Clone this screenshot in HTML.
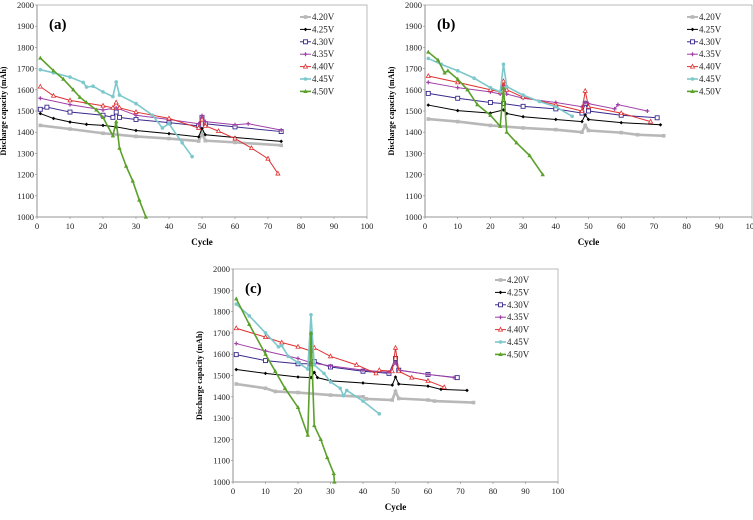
<!DOCTYPE html>
<html><head><meta charset="utf-8"><style>
body{margin:0;background:#fff;}
svg, svg text{font-family:"Liberation Serif","DejaVu Serif",serif !important;}
</style></head><body>
<svg id="fig" width="753" height="515" viewBox="0 0 753 515" font-family="Liberation Serif, serif" xmlns="http://www.w3.org/2000/svg"></svg>
<script>
const xTicks=[0,10,20,30,40,50,60,70,80,90,100];
const yTicks=[1000,1100,1200,1300,1400,1500,1600,1700,1800,1900,2000];
const seriesNames=["4.20V","4.25V","4.30V","4.35V","4.40V","4.45V","4.50V"];
// chart (a)
const aCyc=[
[1,10,20,30,40,49,50,51,60,74],
[1,5,10,15,20,24,30,40,49,50,51,60,74],
[1,3,10,20,23,24,25,30,40,49,50,51,60,74],
[1,10,20,24,30,40,49,50,51,60,64,74],
[1,5,10,20,23,24,25,30,40,49,50,51,55,60,65,70,73],
[1,5,10,14,15,17,20,23,24,25,30,35,38,40,44,47],
[1,5,8,11,13,15,18,20,23,24,25,27,29,31,33]];
const aCap=[
[1432,1415,1395,1380,1370,1358,1395,1360,1352,1338],
[1488,1465,1448,1437,1432,1425,1408,1393,1378,1418,1388,1375,1357],
[1508,1518,1495,1480,1470,1495,1470,1460,1445,1430,1470,1440,1425,1403],
[1560,1530,1505,1515,1480,1460,1440,1478,1450,1435,1440,1410],
[1615,1572,1550,1525,1515,1540,1515,1495,1465,1420,1460,1430,1405,1370,1325,1275,1205],
[1695,1680,1660,1635,1613,1617,1590,1568,1637,1575,1535,1480,1420,1440,1350,1285],
[1750,1690,1650,1600,1565,1540,1505,1470,1383,1450,1325,1240,1170,1080,1000]];
// chart (b)
const bCyc=[
[1,10,20,30,40,48,49,50,60,65,73],
[1,10,20,24,25,30,40,48,49,50,60,72],
[1,10,20,24,30,40,48,49,50,60,71],
[1,10,20,23,24,25,30,40,48,49,50,58,59,68],
[1,10,20,23,24,25,30,40,48,49,50,60,69],
[1,5,10,15,20,23,24,25,30,35,40,45],
[1,4,6,7,10,13,16,20,23,24,25,28,32,36]];
const bCap=[
[1462,1450,1432,1420,1412,1400,1432,1408,1398,1388,1383],
[1528,1502,1490,1505,1488,1473,1460,1450,1482,1460,1445,1435],
[1583,1560,1540,1535,1522,1510,1490,1535,1500,1480,1468],
[1635,1610,1590,1580,1620,1580,1560,1540,1520,1540,1535,1510,1530,1500],
[1665,1635,1600,1590,1640,1600,1565,1530,1500,1595,1520,1490,1450],
[1748,1720,1690,1655,1610,1590,1720,1615,1575,1545,1520,1475],
[1778,1740,1680,1690,1650,1600,1530,1480,1428,1610,1400,1350,1290,1200]];
// chart (c)
const cCyc=[
[1,10,13,20,30,40,41,49,50,51,60,62,74],
[1,10,20,24,25,26,30,40,49,50,51,60,64,72],
[1,10,20,24,25,30,40,48,50,51,60,69],
[1,10,20,24,30,40,48,50,51,60,68],
[1,10,15,20,24,25,30,38,44,45,49,50,51,55,60,65],
[1,5,10,14,15,17,20,23,24,25,28,30,33,34,35,40,45],
[1,5,10,13,16,20,23,24,25,27,29,31,31.2]];
const cCap=[
[1460,1440,1425,1420,1408,1400,1390,1385,1425,1392,1385,1380,1373],
[1528,1510,1493,1490,1515,1490,1475,1465,1455,1493,1460,1450,1435,1430],
[1598,1570,1555,1555,1565,1540,1520,1510,1580,1525,1505,1490],
[1650,1615,1580,1560,1545,1525,1515,1560,1525,1505,1490],
[1722,1680,1655,1635,1615,1630,1590,1550,1510,1525,1520,1630,1520,1490,1475,1445],
[1835,1780,1700,1635,1640,1590,1560,1530,1785,1550,1510,1470,1440,1405,1430,1380,1320],
[1860,1740,1600,1520,1440,1350,1220,1700,1265,1200,1115,1040,1000]];

const NS="http://www.w3.org/2000/svg";
const svg=document.getElementById('fig');
const colors=["#b8b8b8","#000000","#3a2a8c","#a040a8","#e03030","#7cc8cc","#5aa02a"];
const widths=[2.6,1,1,1,1,1.6,1.6];
const FF="Liberation Serif, serif";
function mk(tag,attrs,parent){const e=document.createElementNS(NS,tag);for(const k in attrs)e.setAttribute(k,attrs[k]);(parent||svg).appendChild(e);return e;}
function marker(g,i,x,y){
  const c=colors[i];let m;
  if(i===0)m=mk('rect',{x:x-1.8,y:y-1.8,width:3.6,height:3.6,fill:c},g);
  else if(i===1)m=mk('path',{d:`M${x} ${y-1.8}L${x+1.8} ${y}L${x} ${y+1.8}L${x-1.8} ${y}Z`,fill:c},g);
  else if(i===2)m=mk('rect',{x:x-2,y:y-2,width:4,height:4,fill:'#fff',stroke:c,'stroke-width':0.9},g);
  else if(i===3)m=mk('path',{d:`M${x-2} ${y}L${x+2} ${y}M${x} ${y-2}L${x} ${y+2}`,stroke:c,'stroke-width':1.2},g);
  else if(i===4)m=mk('path',{d:`M${x} ${y-2.2}L${x+2} ${y+1.5}L${x-2} ${y+1.5}Z`,fill:'#fff',stroke:c,'stroke-width':0.8},g);
  else if(i===5)m=mk('circle',{cx:x,cy:y,r:1.8,fill:c},g);
  else m=mk('path',{d:`M${x} ${y-2.4}L${x+2.2} ${y+1.6}L${x-2.2} ${y+1.6}Z`,fill:c},g);
  
  
}
function chart(id,label,x0,x1,yTop,yBot,cyc,cap,lgX,lgY){
  const g=mk('g',{'font-family':FF});
  
  
  const sx=v=>x0+(v-0)/100*(x1-x0);
  const sy=v=>yBot-(v-1000)/1000*(yBot-yTop);
  const fr=mk('rect',{x:x0,y:yTop,width:x1-x0,height:yBot-yTop,fill:'none',stroke:'#aaa','stroke-width':0.8},g);
  
  const ax=mk('path',{d:`M${x0} ${yTop}L${x0} ${yBot}L${x1} ${yBot}`,fill:'none',stroke:'#888','stroke-width':0.8},g);
  
  yTicks.forEach(v=>{const t=mk('text',{x:x0-3,y:sy(v)+3,'font-size':8.5,'text-anchor':'end',fill:'#222','font-family':FF},g);t.textContent=v;
    
    mk('line',{x1:x0-2,x2:x0,y1:sy(v),y2:sy(v),stroke:'#888','stroke-width':0.6},g);});
  xTicks.forEach(v=>{const t=mk('text',{x:sx(v),y:yBot+12,'font-size':8.5,'text-anchor':'middle',fill:'#222','font-family':FF},g);t.textContent=v;
    
    mk('line',{x1:sx(v),x2:sx(v),y1:yBot,y2:yBot+2,stroke:'#888','stroke-width':0.6},g);});
  const xt=mk('text',{x:(x0+x1)/2,y:yBot+28,'font-size':9,'font-weight':'bold','text-anchor':'middle','font-family':FF},g);xt.textContent='Cycle';
  
  const yc=(yTop+yBot)/2, yx=x0-31;
  const yt=mk('text',{x:yx,y:yc,'font-size':8,'font-weight':'bold','text-anchor':'middle','font-family':FF,transform:`rotate(-90 ${yx} ${yc})`},g);yt.textContent='Discharge capacity (mAh)';
  
  const pl=mk('text',{x:x0+12,y:yTop+24,'font-size':15,'font-weight':'bold','font-family':FF},g);pl.textContent=label;
  
  for(let i=0;i<7;i++){
    const pts=cyc[i].map((c,j)=>sx(c)+','+sy(cap[i][j])).join(' ');
    const sg=mk('g',{},g);
    
    
    const pline=mk('polyline',{points:pts,fill:'none',stroke:colors[i],'stroke-width':widths[i]},sg);
    
    cyc[i].forEach((c,j)=>marker(sg,i,sx(c),sy(cap[i][j])));
    const ly=lgY+i*12.4;
    const le=mk('g',{},g);
    
    
    mk('line',{x1:lgX,x2:lgX+11,y1:ly,y2:ly,stroke:colors[i],'stroke-width':Math.min(widths[i],2)},le);
    marker(le,i,lgX+5.5,ly);
    const lt=mk('text',{x:lgX+12,y:ly+3,'font-size':9,fill:'#222','font-family':FF},le);lt.textContent=seriesNames[i];
  }
}
chart('a','(a)',37,367,5,217,aCyc,aCap,300,17);
chart('b','(b)',425,752,5,217,bCyc,bCap,687,17);
chart('c','(c)',233,558,269,482,cCyc,cCap,495,280);
</script>
</body></html>
